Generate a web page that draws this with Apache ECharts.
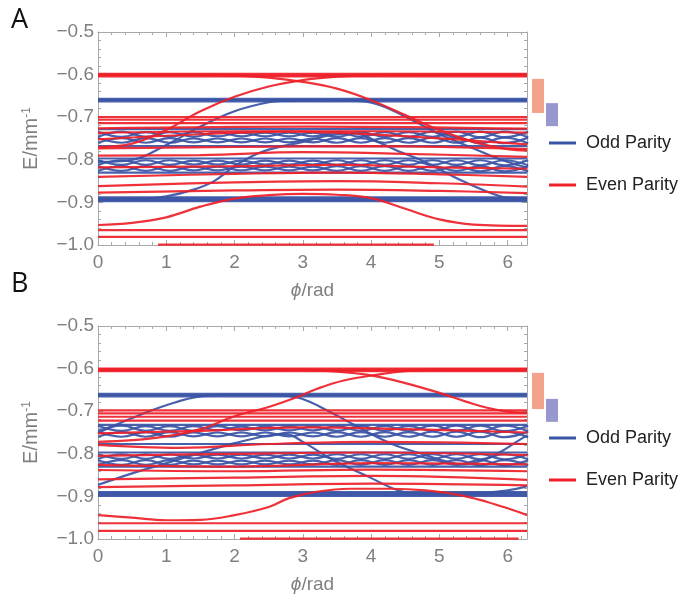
<!DOCTYPE html>
<html>
<head>
<meta charset="utf-8">
<script src="https://cdn.jsdelivr.net/npm/echarts@6/dist/echarts.min.js"></script>
<style>
html,body{margin:0;padding:0;background:#fff;}
#main{width:694px;height:599px;}
</style>
</head>
<body>
<div id="main"></div>
<script>
var TWO_PI = 6.2832;

// ---------- panel A ----------
var evenThickA = [-0.598, -0.601, -0.604];
var evenFlatA = [-0.700, -0.706, -0.714, -0.965, -0.981];
var evenRiseA = [[0,-0.770],[0.5,-0.762],[1.0,-0.730],[1.5,-0.686],[2.0,-0.652],[2.5,-0.628],[3.0,-0.613],[3.5,-0.605],[4.0,-0.601],[5.0,-0.600],[6.2832,-0.600]];
var evenFallA = [[0,-0.600],[1.5,-0.600],[2.0,-0.602],[2.5,-0.607],[3.0,-0.617],[3.5,-0.633],[4.0,-0.660],[4.5,-0.695],[5.0,-0.730],[5.5,-0.758],[6.0,-0.775],[6.2832,-0.778]];
var evenLowA = [[0,-0.953],[0.5,-0.948],[1.0,-0.935],[1.5,-0.910],[2.0,-0.891],[2.5,-0.883],[3.0,-0.880],[3.5,-0.882],[4.0,-0.890],[4.5,-0.915],[5.0,-0.940],[5.5,-0.952],[6.2832,-0.955]];
var evenLevelsA = [
  [[0,-0.726],[3.1,-0.722],[6.2832,-0.727]],
  [[0,-0.737],[2,-0.733],[4,-0.733],[6.2832,-0.736]],
  [[0,-0.752],[1.5,-0.740],[2.8,-0.734],[4.2,-0.742],[6.2832,-0.764]],
  [[0,-0.773],[2,-0.770],[4,-0.768],[6.2832,-0.775]],
  [[0,-0.790],[1.5,-0.789],[3,-0.782],[4.5,-0.786],[6.2832,-0.793]],
  [[0,-0.818],[2,-0.815],[3.5,-0.812],[5,-0.818],[6.2832,-0.821]],
  [[0,-0.840],[2,-0.833],[3.5,-0.830],[5,-0.834],[6.2832,-0.840]],
  [[0,-0.862],[2,-0.853],[3.5,-0.850],[5,-0.855],[6.2832,-0.863]],
  [[0,-0.877],[2,-0.872],[3.5,-0.870],[5,-0.873],[6.2832,-0.878]],
  [[0.88,-0.999],[4.92,-0.999]]
];
var oddThickA = [-0.657, -0.660, -0.663, -0.888, -0.891, -0.894, -0.897];
var oddFlatA = [-0.728, -0.768, -0.797, -0.830];
var oddCurveA = [[0,-0.805],[0.5,-0.800],[1.0,-0.765],[1.5,-0.722],[2.0,-0.686],[2.5,-0.665],[2.8,-0.661],[3.5,-0.660],[3.9,-0.663],[4.2,-0.676],[4.7,-0.715],[5.0,-0.740],[5.45,-0.770],[5.9,-0.800],[6.2832,-0.818]];
var oddHumpA = [[0,-0.892],[0.7,-0.891],[1.0,-0.886],[1.4,-0.870],[1.7,-0.850],[2.0,-0.815],[2.3,-0.788],[2.6,-0.772],[3.0,-0.758],[3.4,-0.742],[3.75,-0.738],[4.1,-0.758],[4.4,-0.780],[4.72,-0.800],[5.0,-0.822],[5.3,-0.847],[5.75,-0.878],[6.0,-0.889],[6.2832,-0.891]];
var evenBandA = [-0.610, -0.690];
var oddBandA = [-0.667, -0.721];

// ---------- panel B ----------
var evenThickB = [-0.600, -0.603, -0.606];
var evenFlatB = [-0.698, -0.705, -0.713, -0.722, -0.963, -0.981];
var evenRiseB = [[0,-0.772],[0.5,-0.768],[1.0,-0.759],[1.5,-0.742],[2.0,-0.712],[2.5,-0.690],[2.9,-0.668],[3.2,-0.648],[3.6,-0.628],[4.1,-0.614],[4.5,-0.606],[5.0,-0.602],[6.2832,-0.602]];
var evenFallB = [[0,-0.602],[2.5,-0.602],[3.0,-0.603],[3.5,-0.607],[4.0,-0.616],[4.5,-0.634],[5.0,-0.657],[5.4,-0.678],[5.7,-0.692],[6.0,-0.701],[6.2832,-0.704]];
var evenLowB = [[0,-0.944],[0.5,-0.950],[1.0,-0.956],[1.5,-0.955],[2.0,-0.944],[2.5,-0.925],[2.8,-0.904],[3.2,-0.889],[3.7,-0.882],[4.3,-0.882],[4.8,-0.886],[5.3,-0.897],[5.7,-0.913],[6.0,-0.928],[6.2832,-0.944]];
var evenLevelsB = [
  [[0,-0.752],[1.5,-0.746],[3,-0.738],[4.5,-0.742],[6.2832,-0.750]],
  [[0,-0.779],[1.2,-0.786],[2.5,-0.777],[4,-0.772],[6.2832,-0.777]],
  [[0,-0.805],[2,-0.800],[4,-0.797],[6.2832,-0.803]],
  [[0,-0.826],[2,-0.830],[4,-0.822],[6.2832,-0.825]],
  [[0,-0.838],[2,-0.841],[4,-0.837],[6.2832,-0.841]],
  [[0,-0.860],[2,-0.856],[4,-0.852],[6.2832,-0.861]],
  [[0,-0.878],[2,-0.874],[4,-0.870],[6.2832,-0.874]],
  [[2.08,-0.999],[6.16,-0.999]]
];
var oddThickB = [-0.659, -0.662, -0.665, -0.890, -0.893, -0.896, -0.899];
var oddFlatB = [-0.732, -0.777, -0.797, -0.830];
var oddCurveB = [[0,-0.751],[0.5,-0.716],[1.0,-0.686],[1.5,-0.665],[2.0,-0.661],[2.6,-0.662],[2.9,-0.667],[3.1,-0.678],[3.4,-0.702],[3.75,-0.732],[4.1,-0.762],[4.4,-0.783],[4.8,-0.803],[5.15,-0.820],[5.35,-0.825],[5.6,-0.817],[5.9,-0.795],[6.1,-0.775],[6.2832,-0.756]];
var oddHumpB = [[0,-0.873],[0.5,-0.846],[1.0,-0.822],[1.5,-0.798],[2.0,-0.775],[2.5,-0.757],[2.75,-0.754],[3.0,-0.772],[3.45,-0.815],[3.95,-0.853],[4.4,-0.886],[4.7,-0.893],[5.5,-0.893],[6.0,-0.886],[6.2832,-0.876]];
var evenBandB = [-0.610, -0.695];
var oddBandB = [-0.671, -0.725];

// ---------- braided odd levels (both panels) ----------
var braidPhi = [0,0.35,0.7,1.05,1.4,1.75,2.1,2.45,2.8,3.15,3.5,3.85,4.2,4.55,4.9,5.25,5.6,5.95,6.3];
var braid1a = [-0.734,-0.746,-0.735,-0.746,-0.735,-0.745,-0.736,-0.745,-0.736,-0.745,-0.735,-0.746,-0.735,-0.746,-0.734,-0.746,-0.734,-0.747,-0.734];
var braid1b = [-0.746,-0.734,-0.746,-0.735,-0.746,-0.735,-0.745,-0.736,-0.745,-0.736,-0.746,-0.735,-0.746,-0.735,-0.746,-0.734,-0.747,-0.734,-0.747];
var braid1c = [-0.749,-0.760,-0.749,-0.760,-0.750,-0.759,-0.750,-0.759,-0.750,-0.759,-0.749,-0.760,-0.749,-0.760,-0.748,-0.760,-0.748,-0.761,-0.748];
var braid1d = [-0.760,-0.749,-0.760,-0.749,-0.759,-0.750,-0.759,-0.750,-0.759,-0.750,-0.760,-0.749,-0.760,-0.749,-0.760,-0.748,-0.761,-0.748,-0.761];
var braid2a = [-0.801,-0.812,-0.801,-0.812,-0.802,-0.811,-0.802,-0.811,-0.802,-0.811,-0.801,-0.812,-0.801,-0.812,-0.801,-0.812,-0.801,-0.813,-0.801];
var braid2b = [-0.812,-0.801,-0.812,-0.801,-0.811,-0.802,-0.811,-0.802,-0.811,-0.802,-0.812,-0.801,-0.812,-0.801,-0.812,-0.801,-0.813,-0.801,-0.813];
var braid2c = [-0.815,-0.826,-0.815,-0.826,-0.816,-0.825,-0.816,-0.825,-0.816,-0.825,-0.815,-0.826,-0.815,-0.826,-0.815,-0.826,-0.815,-0.827,-0.815];
var braid2d = [-0.826,-0.815,-0.826,-0.815,-0.825,-0.816,-0.825,-0.816,-0.825,-0.816,-0.826,-0.815,-0.826,-0.815,-0.826,-0.815,-0.827,-0.815,-0.827];

var oddColor = '#3a54a5';
var evenColor = '#ee2028';
var frameColor = '#a8a8a8';
var labelColor = '#808080';
var salmon = '#f5a28d';
var lilac = '#9898cf';

function flat(v) { return [[0, v], [TWO_PI, v]]; }
function braid(vals) { return braidPhi.map(function (p, i) { return [p, vals[i]]; }); }

var series = [];
function addLine(name, color, data, axis) {
  series.push({
    name: name, type: 'line', xAxisIndex: axis, yAxisIndex: axis,
    data: data, symbol: 'none', showSymbol: false, smooth: 0.4,
    lineStyle: { color: color, width: 2.2, opacity: 0.92 },
    itemStyle: { color: color },
    silent: true, animation: false,
    z: color === evenColor ? 3 : 2
  });
}

function addPanel(axis, d) {
  var O = 'Odd Parity', E = 'Even Parity';
  d.oddThick.forEach(function (v) { addLine(O, oddColor, flat(v), axis); });
  d.oddFlat.forEach(function (v) { addLine(O, oddColor, flat(v), axis); });
  [braid1a, braid1b, braid1c, braid1d, braid2a, braid2b, braid2c, braid2d].forEach(function (b) {
    addLine(O, oddColor, braid(b), axis);
  });
  addLine(O, oddColor, d.oddCurve, axis);
  addLine(O, oddColor, d.oddHump, axis);
  d.evenThick.forEach(function (v) { addLine(E, evenColor, flat(v), axis); });
  d.evenFlat.forEach(function (v) { addLine(E, evenColor, flat(v), axis); });
  d.evenLevels.forEach(function (l) { addLine(E, evenColor, l, axis); });
  addLine(E, evenColor, d.evenRise, axis);
  addLine(E, evenColor, d.evenFall, axis);
  addLine(E, evenColor, d.evenLow, axis);
}

addPanel(0, { oddThick: oddThickA, oddFlat: oddFlatA, oddCurve: oddCurveA, oddHump: oddHumpA,
  evenThick: evenThickA, evenFlat: evenFlatA, evenLevels: evenLevelsA, evenRise: evenRiseA, evenFall: evenFallA, evenLow: evenLowA });
addPanel(2, { oddThick: oddThickB, oddFlat: oddFlatB, oddCurve: oddCurveB, oddHump: oddHumpB,
  evenThick: evenThickB, evenFlat: evenFlatB, evenLevels: evenLevelsB, evenRise: evenRiseB, evenFall: evenFallB, evenLow: evenLowB });

// band bars next to each panel
function bandSeries(axis, evenBand, oddBand) {
  return {
    type: 'custom', xAxisIndex: axis, yAxisIndex: axis, silent: true, animation: false,
    data: [[0, evenBand[0], evenBand[1]], [1, oddBand[0], oddBand[1]]],
    renderItem: function (params, api) {
      var p0 = api.coord([api.value(0), api.value(1)]);
      var p1 = api.coord([api.value(0) + 1, api.value(2)]);
      return {
        type: 'rect',
        shape: { x: p0[0] + 1, y: p0[1], width: p1[0] - p0[0] - 2, height: p1[1] - p0[1] },
        style: { fill: api.value(0) === 0 ? salmon : lilac }
      };
    }
  };
}
series.push(bandSeries(4, evenBandA, oddBandA));
series.push(bandSeries(5, evenBandB, oddBandB));

function xAxes(gi) {
  var common = {
    type: 'value', gridIndex: gi, min: 0, max: TWO_PI, interval: 1,
    axisLine: { show: true, onZero: false, lineStyle: { color: frameColor, width: 1 } },
    axisTick: { show: true, inside: true, length: 5, lineStyle: { color: frameColor } },
    minorTick: { show: true, splitNumber: 5, length: 3, lineStyle: { color: frameColor } },
    splitLine: { show: false }
  };
  var bottom = Object.assign({}, common, {
    position: 'bottom',
    axisLabel: {
      color: labelColor, fontSize: 19, fontFamily: 'Liberation Sans', margin: 8,
      formatter: function (v) { return Math.abs(v - Math.round(v)) < 1e-6 ? String(Math.round(v)) : ''; }
    },
    name: '{i|ϕ}/rad', nameLocation: 'middle', nameGap: 36,
    nameTextStyle: { color: labelColor, fontSize: 19, fontFamily: 'Liberation Sans',
      rich: { i: { fontStyle: 'italic', fontSize: 19, color: labelColor, fontFamily: 'Liberation Sans' } } }
  });
  var top = Object.assign({}, common, { position: 'top', axisLabel: { show: false } });
  return [bottom, top];
}
function yAxes(gi) {
  var common = {
    type: 'value', gridIndex: gi, min: -1, max: -0.5, interval: 0.1,
    axisLine: { show: true, onZero: false, lineStyle: { color: frameColor, width: 1 } },
    axisTick: { show: true, inside: true, length: 5, lineStyle: { color: frameColor } },
    minorTick: { show: true, splitNumber: 5, length: 3, lineStyle: { color: frameColor } },
    splitLine: { show: false }
  };
  var left = Object.assign({}, common, {
    position: 'left',
    axisLabel: {
      color: labelColor, fontSize: 19, fontFamily: 'Liberation Sans', margin: 4,
      formatter: function (v) { return '\u2212' + Math.abs(v).toFixed(1); }
    },
    name: 'E/mm{s|-1}', nameLocation: 'middle', nameGap: 56, nameRotate: 90,
    nameTextStyle: { color: labelColor, fontSize: 20, fontFamily: 'Liberation Sans', verticalAlign: 'bottom',
      rich: { s: { fontSize: 12, color: labelColor, fontFamily: 'Liberation Sans', padding: [0, 0, 9, 0] } } }
  });
  var right = Object.assign({}, common, { position: 'right', axisLabel: { show: false } });
  return [left, right];
}

var xa = xAxes(0).concat(xAxes(1));
var ya = yAxes(0).concat(yAxes(1));
// hidden axes for band bars
xa.push({ type: 'value', gridIndex: 2, min: 0, max: 2, show: false });
xa.push({ type: 'value', gridIndex: 3, min: 0, max: 2, show: false });
ya.push({ type: 'value', gridIndex: 2, min: -1, max: -0.5, show: false });
ya.push({ type: 'value', gridIndex: 3, min: -1, max: -0.5, show: false });

function legendAt(top) {
  return {
    data: ['Odd Parity', 'Even Parity'], orient: 'vertical', left: 544, top: top,
    icon: 'rect', itemWidth: 27, itemHeight: 3, itemGap: 24, selectedMode: false,
    textStyle: { fontSize: 18, color: '#222', fontFamily: 'Liberation Sans', padding: [0, 0, 0, 5] }
  };
}

var option = {
  backgroundColor: '#fff',
  animation: false,
  title: [
    { text: 'A', left: 6, top: 2, textStyle: { fontSize: 27, fontWeight: 'normal', color: '#111', fontFamily: 'Open Sans' } },
    { text: 'B', left: 6, top: 266, textStyle: { fontSize: 27, fontWeight: 'normal', color: '#111', fontFamily: 'Open Sans' } }
  ],
  legend: [legendAt(129), legendAt(424)],
  grid: [
    { left: 98, top: 32, width: 429, height: 213 },
    { left: 98, top: 326, width: 429, height: 213 },
    { left: 531, top: 32, width: 28, height: 213 },
    { left: 531, top: 326, width: 28, height: 213 }
  ],
  xAxis: xa,
  yAxis: ya,
  series: series
};

var myChart = echarts.init(document.getElementById('main'));
myChart.setOption(option);
</script>
</body>
</html>
